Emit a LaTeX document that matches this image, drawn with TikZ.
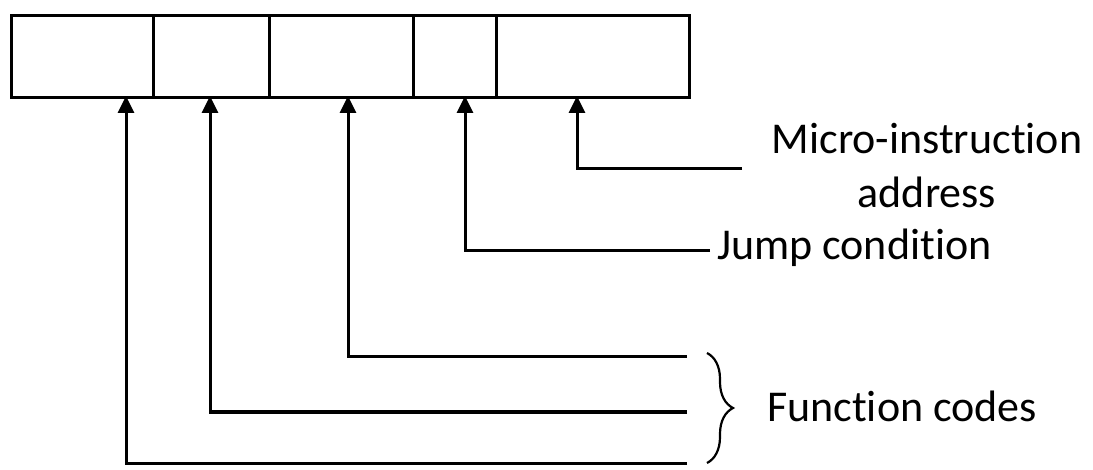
\documentclass[tikz,border=0pt]{standalone}
\usepackage{fontspec}
\setmainfont[Ligatures=NoCommon]{Carlito}
\usetikzlibrary{arrows.meta,decorations.pathreplacing}
\begin{document}
\begin{tikzpicture}[x=1pt,y=-1pt,
  cell/.style={draw,line width=3pt,minimum height=82pt,inner sep=0pt,anchor=north west},
  feed/.style={line width=3pt,-{Triangle[length=17pt,width=16pt]}},
  lbl/.style={font=\fontsize{44}{54}\selectfont,inner sep=0pt}]
\useasboundingbox (0,0) rectangle (1093,470);
\node[cell,minimum width=142pt] (f1) at (10,14) {};
\node[cell,minimum width=116pt] (f2) at (152,14) {};
\node[cell,minimum width=144pt] (f3) at (268,14) {};
\node[cell,minimum width=83pt] (f4) at (412,14) {};
\node[cell,minimum width=193pt] (f5) at (495,14) {};
\coordinate (e5) at (742,169);
\coordinate (e4) at (710,251);
\coordinate (e3) at (687,357);
\coordinate (e2) at (687,412);
\coordinate (e1) at (687,463);
\node[lbl,align=center] (mia) at (927,166) {Micro-instruction\\address};
\node[lbl,anchor=base west] (jc) at (717,260) {Jump condition};
\node[lbl,anchor=base west] (fc) at (767,421) {Function codes};
\draw[feed] (e5) -- (577,169) -- (577,96);
\draw[feed] (e4) -- (465,251) -- (465,96);
\draw[feed] (e3) -- (348,357) -- (348,96);
\draw[feed] (e2) -- (210,412) -- (210,96);
\draw[feed] (e1) -- (126,463) -- (126,96);
\draw[line width=2.2pt,decorate,decoration={brace,amplitude=26pt}] (707,353) -- (707,463);
\end{tikzpicture}
\end{document}
